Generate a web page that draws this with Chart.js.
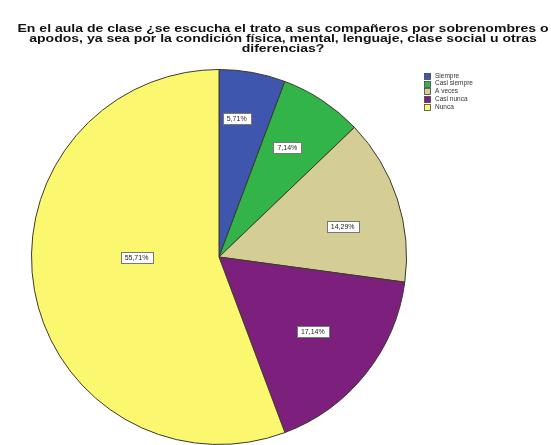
<!DOCTYPE html>
<html>
<head>
<meta charset="utf-8">
<script src="https://cdn.jsdelivr.net/npm/chart.js@4/dist/chart.umd.min.js"></script>
<style>
html,body{margin:0;padding:0;background:#fff;}
#wrap{position:relative;width:551px;height:445px;}
</style>
</head>
<body>
<div id="wrap"><canvas id="c" width="551" height="445"></canvas></div>
<script>
const titleLines = [
  "En el aula de clase ¿se escucha el trato a sus compañeros por sobrenombres o",
  "apodos, ya sea por la condición física, mental, lenguaje, clase social u otras",
  "diferencias?"
];
const categories = ["Siempre", "Casi siempre", "A veces", "Casi nunca", "Nunca"];
const percentages = [5.71, 7.14, 14.29, 17.14, 55.71];
const valueLabels = ["5,71%", "7,14%", "14,29%", "17,14%", "55,71%"];
const sliceColors = ["#3f56ae", "#33b449", "#d4cd96", "#7d1f7d", "#fbf870"];
// label placement style: fraction of radius, angle offset (deg)
const labelRadius = [0.745, 0.69, 0.68, 0.64, 0.44];
const labelAngleOff = [-3, -1.5, 4, 0, 10];

const titlePlugin = {
  id: 'titleDraw',
  afterDraw(chart) {
    const ctx = chart.ctx;
    ctx.save();
    ctx.fillStyle = '#111';
    ctx.textAlign = 'center';
    ctx.textBaseline = 'middle';
    ctx.font = 'bold 10.5px "Liberation Sans"';
    const w = ctx.measureText(titleLines[0]).width;
    const sx = 531 / w;
    ctx.translate(283, 0);
    ctx.scale(sx, 1);
    const ys = [29, 39, 49];
    titleLines.forEach((t, i) => ctx.fillText(t, 0, ys[i]));
    ctx.restore();
  }
};

const labelPlugin = {
  id: 'sliceLabels',
  afterDatasetsDraw(chart) {
    const ctx = chart.ctx;
    const meta = chart.getDatasetMeta(0);
    ctx.save();
    ctx.font = '7px "Liberation Sans"';
    ctx.textAlign = 'center';
    ctx.textBaseline = 'middle';
    meta.data.forEach((arc, i) => {
      const p = arc.getProps(['x','y','startAngle','endAngle','outerRadius'], true);
      const mid = (p.startAngle + p.endAngle) / 2 + labelAngleOff[i] * Math.PI / 180;
      const r = p.outerRadius * labelRadius[i];
      const x = p.x + Math.cos(mid) * r;
      const y = p.y + Math.sin(mid) * r;
      const t = valueLabels[i];
      const tw = ctx.measureText(t).width;
      const bw = tw + 8, bh = 11;
      ctx.fillStyle = '#fff';
      ctx.fillRect(Math.round(x - bw/2) + 0.5, Math.round(y - bh/2) + 0.5, Math.round(bw), bh);
      ctx.strokeStyle = '#777';
      ctx.lineWidth = 1;
      ctx.strokeRect(Math.round(x - bw/2) + 0.5, Math.round(y - bh/2) + 0.5, Math.round(bw), bh);
      ctx.fillStyle = '#222';
      ctx.fillText(t, x, y + 0.5);
    });
    ctx.restore();
  }
};

const legendPlugin = {
  id: 'legendDraw',
  afterDraw(chart) {
    const ctx = chart.ctx;
    const ds = chart.data.datasets[0];
    ctx.save();
    ctx.font = '6.5px "Liberation Sans"';
    ctx.textBaseline = 'middle';
    ctx.textAlign = 'left';
    chart.data.labels.forEach((lab, i) => {
      const y = 76 + i * 7.7;
      ctx.fillStyle = ds.backgroundColor[i];
      ctx.fillRect(424.5, Math.round(y - 3) + 0.5, 6, 6);
      ctx.strokeStyle = '#444';
      ctx.lineWidth = 0.8;
      ctx.strokeRect(424.5, Math.round(y - 3) + 0.5, 6, 6);
      ctx.fillStyle = '#333';
      ctx.fillText(lab, 435, y);
    });
    ctx.restore();
  }
};

new Chart(document.getElementById('c'), {
  type: 'pie',
  data: {
    labels: categories,
    datasets: [{
      data: percentages,
      backgroundColor: sliceColors,
      borderColor: '#3a3a2a',
      borderWidth: 1
    }]
  },
  options: {
    responsive: false,
    animation: false,
    layout: { padding: { left: 31, right: 144, top: 69, bottom: 0 } },
    plugins: { legend: { display: false }, tooltip: { enabled: false }, title: { display: false } }
  },
  plugins: [labelPlugin, titlePlugin, legendPlugin]
});
</script>
</body>
</html>
